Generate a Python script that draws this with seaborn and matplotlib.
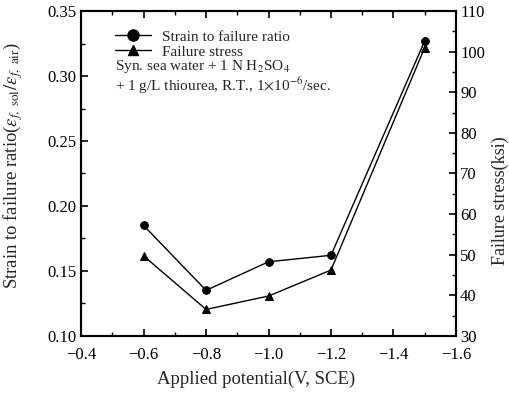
import matplotlib
matplotlib.use("Agg")
import matplotlib.pyplot as plt
import seaborn as sns
import pandas as pd
from matplotlib.ticker import MultipleLocator, FuncFormatter
from matplotlib.lines import Line2D

potential = [-0.6, -0.8, -1.0, -1.2, -1.5]
strain_ratio = [0.185, 0.135, 0.157, 0.162, 0.327]
failure_stress = [49.7, 36.5, 39.8, 46.2, 101.0]

sns.set_style("ticks")
plt.rcParams['font.family'] = ['Liberation Serif', 'DejaVu Serif']
plt.rcParams['mathtext.fontset'] = 'stix'

fig = plt.figure(figsize=(5.1, 3.96), dpi=100)
ax = fig.add_axes([0.159, 0.152, 0.735, 0.820])
ax2 = ax.twinx()

df = pd.DataFrame({"potential": potential, "strain": strain_ratio, "stress": failure_stress})

sns.lineplot(data=df, x="potential", y="strain", ax=ax, color="black", marker="o",
             markersize=5.5, linewidth=1.0, markeredgecolor="black")
sns.lineplot(data=df, x="potential", y="stress", ax=ax2, color="black", marker="^",
             markersize=5.5, linewidth=1.0, markeredgecolor="black")

ax.set_xlim(-0.4, -1.6)
ax.set_ylim(0.10, 0.35)
ax2.set_ylim(30, 110)

ax.xaxis.set_major_locator(MultipleLocator(0.2))
ax.xaxis.set_minor_locator(MultipleLocator(0.1))
ax.yaxis.set_major_locator(MultipleLocator(0.05))
ax.yaxis.set_minor_locator(MultipleLocator(0.025))
ax2.yaxis.set_major_locator(MultipleLocator(10))
ax2.yaxis.set_minor_locator(MultipleLocator(5))

ax.xaxis.set_major_formatter(FuncFormatter(lambda v, p: ("\u2212%.1f" % abs(v)) if v < 0 else "%.1f" % v))
ax.yaxis.set_major_formatter(FuncFormatter(lambda v, p: "%.2f" % v))

for a in (ax, ax2):
    for s in a.spines.values():
        s.set_linewidth(1.5)
        s.set_color("black")
ax.tick_params(axis="both", which="both", direction="in", top=True, labelsize=12, colors="black")
ax.tick_params(axis="x", which="major", pad=8)
ax.tick_params(which="major", length=5, width=1.2)
ax.tick_params(which="minor", length=3, width=1.0)
ax2.tick_params(axis="y", which="both", direction="in", labelsize=12, colors="black", pad=3)
ax2.tick_params(which="major", length=5, width=1.2)
ax2.tick_params(which="minor", length=3, width=1.0)

ax.set_xlabel("Applied potential(V, SCE)", fontsize=13.5)
ax.set_ylabel(r"Strain to failure ratio($\varepsilon_{f,\ \mathrm{sol}}/\varepsilon_{f,\ \mathrm{air}}$)", fontsize=13.5)
ax2.set_ylabel("Failure stress(ksi)", fontsize=13, rotation=90)
ax.xaxis.set_label_coords(0.467, -0.108)
ax.yaxis.set_label_coords(-0.15, 0.526)
ax2.yaxis.set_label_coords(1.096, 0.415)

handles = [Line2D([], [], color="black", marker="o", markersize=8, linewidth=1.0),
           Line2D([], [], color="black", marker="^", markersize=7, linewidth=1.0)]
ax.legend(handles, ["Strain to failure ratio", "Failure stress"], loc="upper left",
          bbox_to_anchor=(0.09, 0.942), frameon=False, fontsize=11, handlelength=2.4,
          handletextpad=0.7, borderpad=0, borderaxespad=0, labelspacing=0.1)

ax.text(0.09, 0.857,
        "Syn. sea water + 1 N H$_2$SO$_4$\n+ 1 g/L thiourea, R.T., 1$\\times$10$^{-6}$/sec.",
        transform=ax.transAxes, fontsize=11, va="top", linespacing=1.05)

fig.savefig("out.png", dpi=100)
